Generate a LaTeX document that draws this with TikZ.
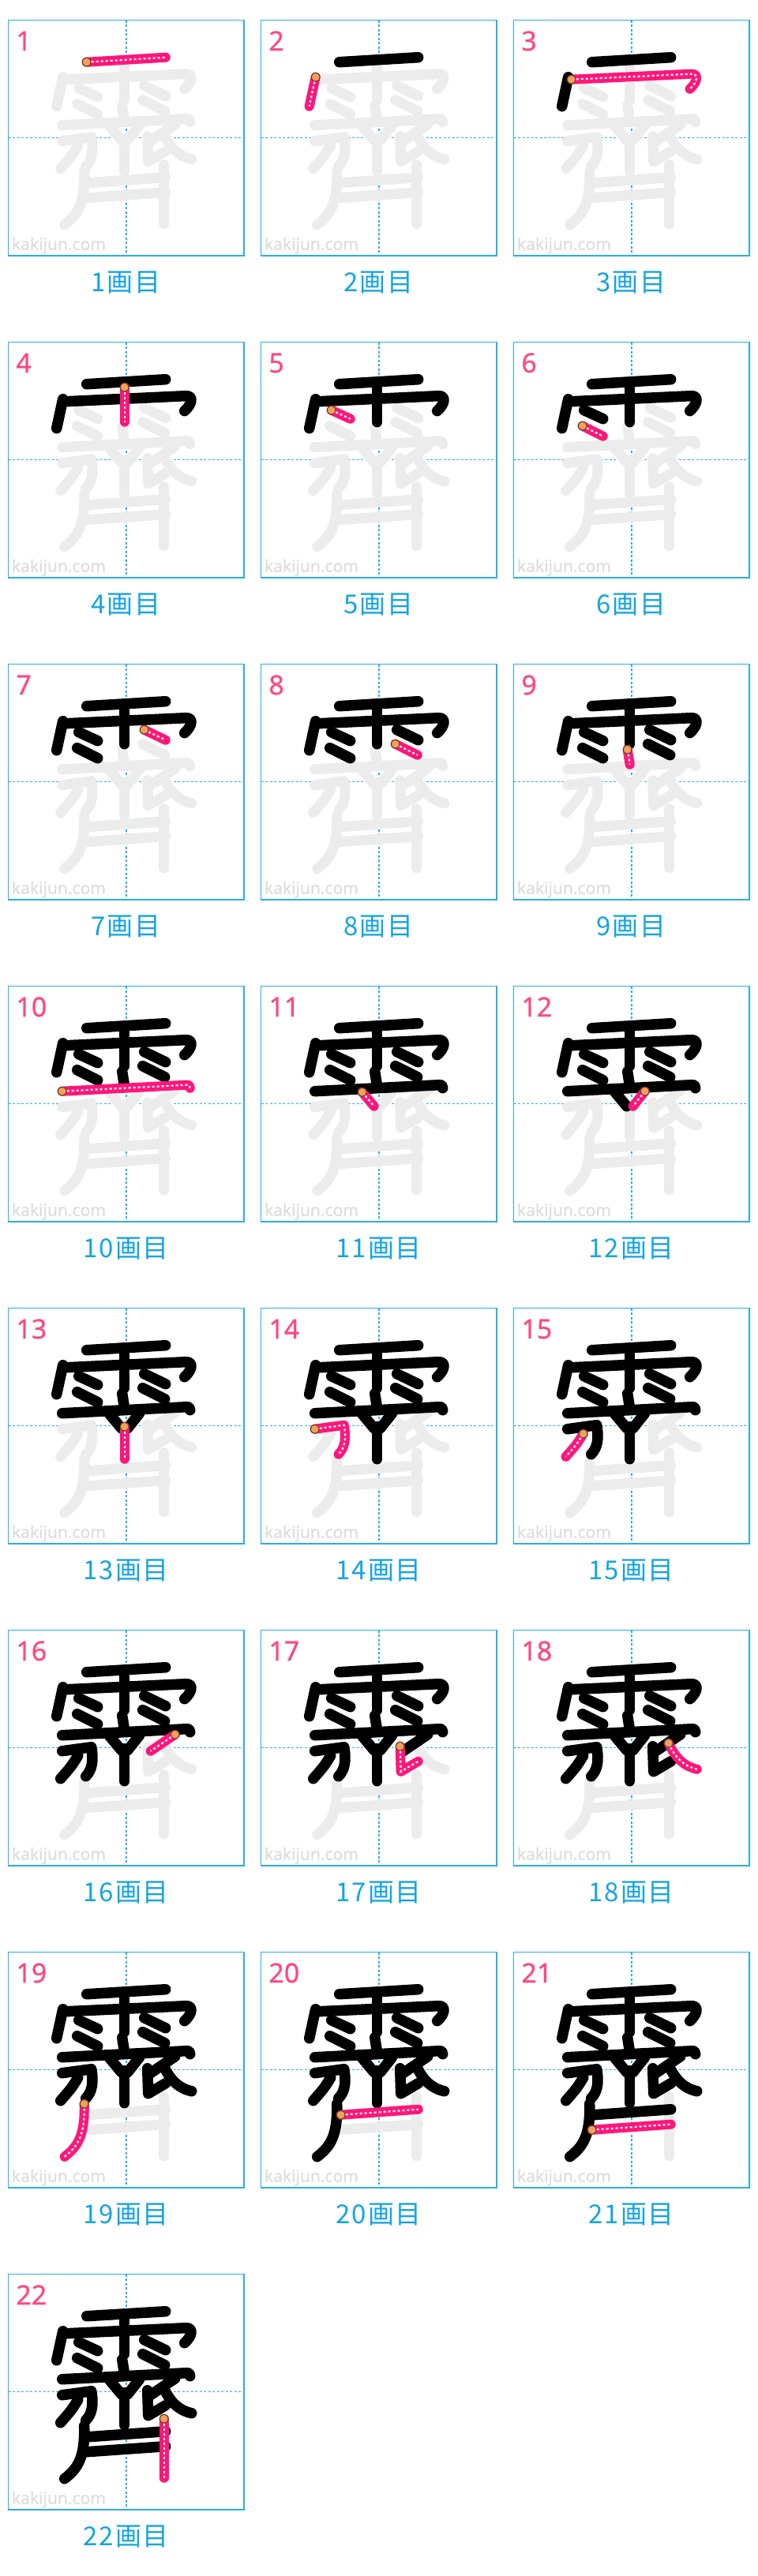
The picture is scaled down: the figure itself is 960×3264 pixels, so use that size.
\documentclass[tikz,border=0pt]{standalone}
\usepackage{fontspec}
\setmainfont{Noto Sans}
\newfontfamily\jpfont[LetterSpace=6]{Noto Sans CJK JP}
\newfontfamily\numfont[FakeBold=0.6]{Noto Sans}
\definecolor{boxblue}{RGB}{40,174,232}
\definecolor{labblue}{RGB}{20,164,228}
\definecolor{numpink}{RGB}{255,72,128}
\definecolor{curpink}{RGB}{255,22,122}
\definecolor{dotorange}{RGB}{246,160,84}
\definecolor{dotedge}{RGB}{95,62,40}
\definecolor{ghost}{RGB}{236,236,236}
\definecolor{wmgrey}{RGB}{222,222,222}
\tikzset{
  panelbox/.style={draw=boxblue, line width=1.5pt},
  guide/.style={draw=boxblue, line width=1.2pt, dash pattern=on 3pt off 2.5pt},
  ghoststroke/.style={draw=ghost, line width=13pt, line cap=round, line join=round},
  donestroke/.style={draw=black, line width=13.5pt, line cap=round, line join=round},
  curstroke/.style={draw=curpink, line width=12pt, line cap=round, line join=round},
  curdash/.style={draw=white, line width=2.2pt, dash pattern=on 3pt off 3pt},
  startdot/.style={fill=dotorange, draw=dotedge, line width=1pt},
  numtxt/.style={text=numpink, font=\numfont\fontsize{34}{34}\selectfont, inner sep=0pt},
  labtxt/.style={text=labblue, font=\jpfont\fontsize{33}{33}\selectfont, inner sep=0pt},
  wmark/.style={text=wmgrey, font=\numfont\fontsize{21}{21}\selectfont, inner sep=0pt}
}
\newcommand\kstroke[2]{\ifcase#2\relax\or
\draw[#1] (99,53) -- (199,47);\or
\draw[#1] (69,72) -- (61,109);\or
\draw[#1] (73,75) -- (224,68) .. controls (234,67) and (234,77) .. (223,87);\or
\draw[#1] (147,57) -- (147,101);\or
\draw[#1] (89,86) -- (113,97);\or
\draw[#1] (87,106) -- (113,119);\or
\draw[#1] (172,83) -- (199,96);\or
\draw[#1] (170,101) -- (198,115);\or
\draw[#1] (144,108) -- (147,127);\or
\draw[#1] (68,133) -- (225,125) .. controls (229,125) .. (230,129);\or
\draw[#1] (128,134) -- (143,152);\or
\draw[#1] (166,133) -- (151,152);\or
\draw[#1] (147,150) -- (147,191);\or
\draw[#1] (68,153) -- (105,148) .. controls (108,165) and (106,177) .. (98,185);\or
\draw[#1] (88,159) .. controls (80,172) .. (66,188);\or
\draw[#1] (211,132) -- (180,153);\or
\draw[#1] (176,147) -- (177,179) -- (199,166);\or
\draw[#1] (196,143) .. controls (205,162) and (215,172) .. (232,176);\or
\draw[#1] (96,192) .. controls (97,232) and (88,246) .. (71,259);\or
\draw[#1] (101,206) -- (199,199);\or
\draw[#1] (99,225) -- (199,218);\or
\draw[#1] (197,183) -- (197,258);\fi}
\newcommand\kdot[1]{\ifcase#1\relax\or
\def\kx{99}\def\ky{53}\or
\def\kx{69}\def\ky{72}\or
\def\kx{73}\def\ky{75}\or
\def\kx{147}\def\ky{57}\or
\def\kx{89}\def\ky{86}\or
\def\kx{87}\def\ky{106}\or
\def\kx{172}\def\ky{83}\or
\def\kx{170}\def\ky{101}\or
\def\kx{144}\def\ky{108}\or
\def\kx{68}\def\ky{133}\or
\def\kx{128}\def\ky{134}\or
\def\kx{166}\def\ky{133}\or
\def\kx{147}\def\ky{150}\or
\def\kx{68}\def\ky{153}\or
\def\kx{88}\def\ky{159}\or
\def\kx{211}\def\ky{132}\or
\def\kx{176}\def\ky{147}\or
\def\kx{196}\def\ky{143}\or
\def\kx{96}\def\ky{192}\or
\def\kx{101}\def\ky{206}\or
\def\kx{99}\def\ky{225}\or
\def\kx{197}\def\ky{183}\fi}
\newcommand\kpanel[1]{%
  \pgfmathtruncatemacro\pc{mod(#1-1,3)}%
  \pgfmathtruncatemacro\pr{floor((#1-1)/3)}%
  \pgfmathtruncatemacro\prev{#1-1}%
  \begin{scope}[shift={(10.7+320*\pc,25.7+408*\pr)}]
    \draw[guide] (149.3,0) -- (149.3,298.5);
    \draw[guide] (0,149) -- (298.5,149);
    \draw[panelbox] (0,0) rectangle (298.5,298.5);
    \node[wmark, anchor=base west] (wm#1) at (4,291) {kakijun.com};
    \foreach \k in {1,...,22}{\kstroke{ghoststroke}{\k}}
    \ifnum#1>1
      \foreach \k in {1,...,\prev}{\kstroke{donestroke}{\k}}
    \fi
    \kstroke{curstroke}{#1}
    \kstroke{curdash}{#1}
    \kdot{#1}
    \filldraw[startdot] (\kx,\ky) circle[radius=5.5pt];
    \node[numtxt, anchor=base west] (num#1) at (9.5,38.3) {#1};
    \node[labtxt] (lab#1) at (149,332) {#1画目};
  \end{scope}}
\begin{document}
\begin{tikzpicture}[x=1pt,y=-1pt]
\fill[white] (0,0) rectangle (960,3264);
\useasboundingbox (0,0) rectangle (960,3264);
\foreach \n in {1,...,22}{\kpanel{\n}}
\end{tikzpicture}
\end{document}
